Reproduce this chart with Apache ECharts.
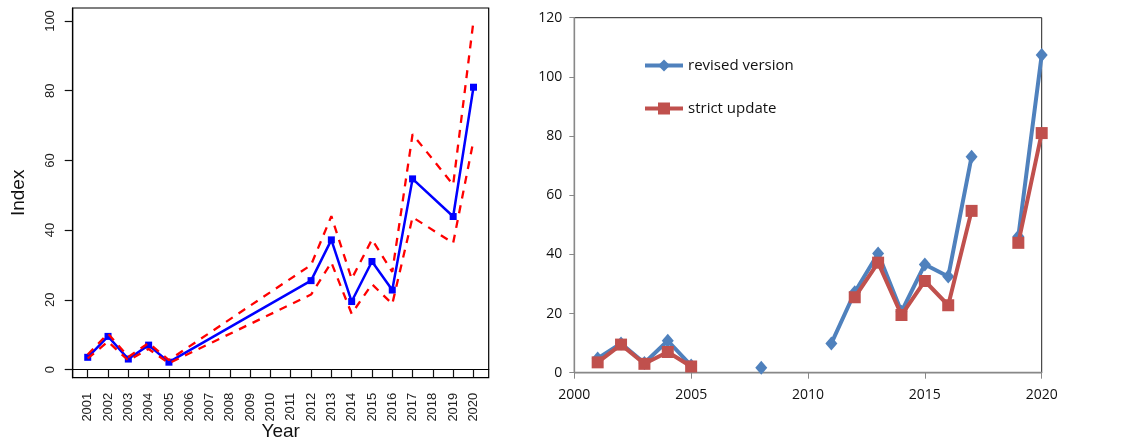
<!DOCTYPE html>
<html>
<head>
<meta charset="utf-8">
<script src="https://cdn.jsdelivr.net/npm/echarts@6/dist/echarts.min.js"></script>
<style>
  html, body { margin: 0; padding: 0; background: #fff; }
  #chart { width: 1141px; height: 445px; }
</style>
</head>
<body>
<div id="chart"></div>
<script>
// Years with an index estimate (left panel)
const indexYears = [2001, 2002, 2003, 2004, 2005, 2012, 2013, 2014, 2015, 2016, 2017, 2019, 2020];
// Strict-update index and its confidence band
const strictUpdate = [3.5, 9.5, 3.0, 7.0, 2.1, 25.5, 37.2, 19.5, 31.0, 22.8, 54.7, 43.9, 81.0];
const bandUpper    = [4.3, 10.3, 3.6, 7.6, 2.7, 30.0, 44.0, 26.0, 37.3, 28.0, 67.5, 53.0, 100.0];
const bandLower    = [3.2, 8.0, 2.6, 5.9, 1.8, 21.5, 30.7, 16.0, 24.5, 18.8, 43.7, 36.3, 65.7];

// Full year range for the right panel; null = no value that year
const allYears = [2001, 2002, 2003, 2004, 2005, 2006, 2007, 2008, 2009, 2010,
                  2011, 2012, 2013, 2014, 2015, 2016, 2017, 2018, 2019, 2020];
const revisedVersion = [4.8, 9.9, 3.3, 10.8, 2.4, null, null, 1.7, null, null,
                        9.9, 27.2, 40.3, 20.6, 36.6, 32.5, 73.0, null, 46.0, 107.4];

// Left-panel tick positions
const leftYearTicks = allYears;
const leftIndexTicks = [0, 20, 40, 60, 80, 100];

function pairs(xs, ys) { return xs.map((x, i) => [x, ys[i]]); }

// strict update spread over the full year range for the right panel
const strictByYear = allYears.map(y => {
  const i = indexYears.indexOf(y);
  return i >= 0 ? strictUpdate[i] : null;
});

const chart = echarts.init(document.getElementById('chart'), null, { renderer: 'canvas' });

const rFont = 'Liberation Sans, Arial, sans-serif';
const xlFont = 'Open Sans, sans-serif';

chart.setOption({
  animation: false,
  backgroundColor: '#fff',
  legend: {
    data: ['revised version', 'strict update'],
    orient: 'vertical',
    left: 638,
    top: 53,
    itemWidth: 38,
    itemHeight: 15,
    itemGap: 28,
    lineStyle: { width: 4 },
    textStyle: { fontFamily: xlFont, fontSize: 15, color: '#111' }
  },
  grid: [
    // R-style panel: the frame is the plot region, axis ranges padded past the data
    { left: 72.7, top: 8, width: 416, height: 369.7,
      containLabel: false, outerBoundsMode: 'none',
      show: true, borderColor: '#000', borderWidth: 1.2, backgroundColor: 'transparent' },
    { left: 574.3, right: 99.3, top: 17.7, bottom: 72.3,
      containLabel: false, outerBoundsMode: 'none',
      show: true, borderColor: '#222', borderWidth: 1, backgroundColor: 'transparent' }
  ],
  xAxis: [
    {
      gridIndex: 0, type: 'value', min: 2000.26, max: 2020.75,
      axisLine: { show: true, lineStyle: { color: '#000', width: 1.2 } },
      axisTick: { show: true, length: 8, customValues: leftYearTicks,
                  lineStyle: { color: '#111', width: 1.2 } },
      axisLabel: {
        rotate: 90, margin: 15, fontFamily: rFont, fontSize: 13, color: '#222',
        customValues: leftYearTicks, formatter: v => String(v)
      },
      splitLine: { show: false },
      name: 'Year', nameLocation: 'middle', nameGap: 45, nameMoveOverlap: false,
      nameTextStyle: { fontFamily: rFont, fontSize: 19, color: '#111' }
    },
    {
      gridIndex: 1, type: 'value', min: 2000, max: 2020, interval: 5,
      axisLine: { show: true, lineStyle: { color: '#888', width: 1.3 } },
      axisTick: { show: true, length: 6, lineStyle: { color: '#888' } },
      axisLabel: { margin: 15, fontFamily: xlFont, fontSize: 14, color: '#111',
                   formatter: v => String(v) },
      splitLine: { show: false }
    }
  ],
  yAxis: [
    {
      gridIndex: 0, type: 'value', min: -2.35, max: 103.73,
      axisLine: { show: true, lineStyle: { color: '#000', width: 1.2 } },
      axisTick: { show: true, length: 8, customValues: leftIndexTicks,
                  lineStyle: { color: '#111', width: 1.2 } },
      axisLabel: { rotate: 90, margin: 16, fontFamily: rFont, fontSize: 13, color: '#222',
                   customValues: leftIndexTicks, formatter: v => String(v) },
      splitLine: { show: false },
      name: 'Index', nameLocation: 'middle', nameGap: 44, nameRotate: 90, nameMoveOverlap: false,
      nameTextStyle: { fontFamily: rFont, fontSize: 19, color: '#111' }
    },
    {
      gridIndex: 1, type: 'value', min: 0, max: 120, interval: 20,
      axisLine: { show: true, lineStyle: { color: '#888', width: 1.3 } },
      axisTick: { show: true, length: 5, lineStyle: { color: '#888' } },
      axisLabel: { margin: 12, fontFamily: xlFont, fontSize: 14, color: '#111' },
      splitLine: { show: false }
    }
  ],
  series: [
    {
      name: 'index', type: 'line', xAxisIndex: 0, yAxisIndex: 0,
      data: pairs(indexYears, strictUpdate),
      symbol: 'rect', symbolSize: 7, showSymbol: true,
      lineStyle: { color: '#0000FF', width: 2.5 },
      itemStyle: { color: '#0000FF' },
      z: 3
    },
    {
      name: 'upper', type: 'line', xAxisIndex: 0, yAxisIndex: 0,
      data: pairs(indexYears, bandUpper), showSymbol: false,
      lineStyle: { color: '#FF0000', width: 2.3, type: [8, 7] }, z: 4
    },
    {
      name: 'lower', type: 'line', xAxisIndex: 0, yAxisIndex: 0,
      data: pairs(indexYears, bandLower), showSymbol: false,
      lineStyle: { color: '#FF0000', width: 2.3, type: [8, 7] }, z: 4
    },
    {
      name: 'revised version', type: 'line', xAxisIndex: 1, yAxisIndex: 1,
      data: pairs(allYears, revisedVersion), connectNulls: false,
      symbol: 'diamond', symbolSize: [12, 14], showSymbol: true,
      lineStyle: { color: '#4F81BD', width: 4 },
      itemStyle: { color: '#4F81BD' },
      z: 3
    },
    {
      name: 'strict update', type: 'line', xAxisIndex: 1, yAxisIndex: 1,
      data: pairs(allYears, strictByYear), connectNulls: false,
      symbol: 'rect', symbolSize: 12, showSymbol: true,
      lineStyle: { color: '#C0504D', width: 4 },
      itemStyle: { color: '#C0504D' },
      z: 4
    }
  ]
});
</script>
</body>
</html>
